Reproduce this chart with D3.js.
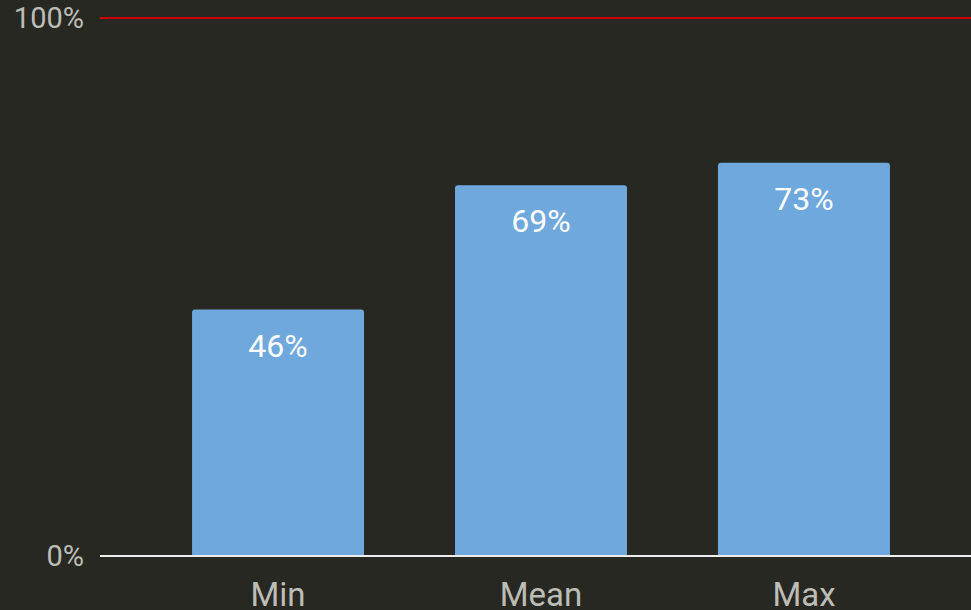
<!DOCTYPE html>
<html><head><meta charset="utf-8">
<script src="https://cdn.jsdelivr.net/npm/d3@7"></script>
<style>html,body{margin:0;padding:0;background:#282823;}svg{display:block;}</style>
</head><body>
<svg id="chart" width="971" height="610"></svg>
<script>
const categories = ["Min", "Mean", "Max"];
const values = [45.8, 68.9, 73.1];
const valueLabels = ["46%", "69%", "73%"];
const yTicks = [0, 100];
const yTickLabels = ["0%", "100%"];

const W = 971, H = 610;
const svg = d3.select("#chart");
svg.append("rect").attr("width", W).attr("height", H).attr("fill", "#282823");

const x = d3.scaleBand().domain(categories).range([100, 982]).paddingInner(0.346).paddingOuter(0.35);
const y = d3.scaleLinear().domain([0, 100]).range([556, 18]);

// red max line
svg.append("line").attr("x1", 100).attr("x2", W).attr("y1", y(100)).attr("y2", y(100))
  .attr("stroke", "#cc0000").attr("stroke-width", 2);

// bars with rounded top corners
const r = 3;
svg.selectAll("path.bar").data(values).join("path").attr("class", "bar")
  .attr("fill", "#6fa8dc")
  .attr("d", (d, i) => {
    const x0 = x(categories[i]), w = x.bandwidth(), y0 = y(d), y1 = y(0);
    return `M${x0},${y1}V${y0 + r}Q${x0},${y0} ${x0 + r},${y0}H${x0 + w - r}Q${x0 + w},${y0} ${x0 + w},${y0 + r}V${y1}Z`;
  });

// baseline
svg.append("line").attr("x1", 100).attr("x2", W).attr("y1", y(0)).attr("y2", y(0))
  .attr("stroke", "#eeeeee").attr("stroke-width", 2);

// value labels
svg.selectAll("text.val").data(values).join("text").attr("class", "val")
  .attr("x", (d, i) => x(categories[i]) + x.bandwidth() / 2)
  .attr("y", d => y(d) + 47)
  .attr("text-anchor", "middle")
  .attr("font-family", "Roboto")
  .attr("font-size", 32)
  .attr("fill", "#ffffff")
  .text((d, i) => valueLabels[i]);

// y tick labels
svg.selectAll("text.ytick").data(yTicks).join("text").attr("class", "ytick")
  .attr("x", 84)
  .attr("y", d => y(d))
  .attr("dy", "0.36em")
  .attr("text-anchor", "end")
  .attr("font-family", "Roboto")
  .attr("font-size", 29)
  .attr("fill", "#bdbdb6")
  .text((d, i) => yTickLabels[i]);

// category labels
svg.selectAll("text.cat").data(categories).join("text").attr("class", "cat")
  .attr("x", d => x(d) + x.bandwidth() / 2)
  .attr("y", 606)
  .attr("text-anchor", "middle")
  .attr("font-family", "Roboto")
  .attr("font-size", 33)
  .attr("fill", "#bdbdb6")
  .text(d => d);
</script>
</body></html>
